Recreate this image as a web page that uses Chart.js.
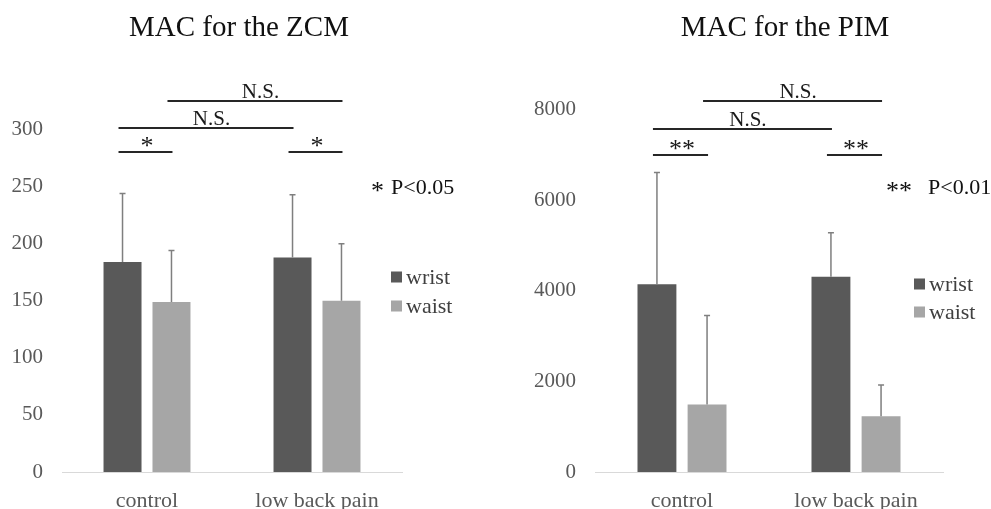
<!DOCTYPE html>
<html lang="en">
<head>
  <meta charset="UTF-8">
  <title>MAC for the ZCM / PIM</title>
  <script src="https://cdn.jsdelivr.net/npm/chart.js"></script>
  <style>
    html, body { margin: 0; padding: 0; background: #fff; overflow: hidden; }
    .panel { position: absolute; top: 0; }
  </style>
</head>
<body>
<div class="panel" style="left:0"><canvas id="zcmChart" width="495" height="509"></canvas></div>
<div class="panel" style="left:495px"><canvas id="pimChart" width="496" height="509"></canvas></div>

<script>
  const groups = ['control', 'low back pain'];
  const seriesNames = ['wrist', 'waist'];
  const seriesColors = ['#595959', '#a6a6a6'];

  // MAC for the ZCM
  const zcmWrist = [184, 188];
  const zcmWristSD = [60, 55];
  const zcmWaist = [149, 150];
  const zcmWaistSD = [45, 50];
  const zcmTicks = [0, 50, 100, 150, 200, 250, 300];

  // MAC for the PIM
  const pimWrist = [4140, 4310];
  const pimWristSD = [2470, 970];
  const pimWaist = [1490, 1230];
  const pimWaistSD = [1960, 690];
  const pimTicks = [0, 2000, 4000, 6000, 8000];

  // significance brackets: [group, series] -> [group, series] at a level in axis units
  const zcmBrackets = [
    {from: [0, 0], to: [0, 1], level: 280, label: '*'},
    {from: [1, 0], to: [1, 1], level: 280, label: '*'},
    {from: [0, 0], to: [1, 0], level: 301.5, label: 'N.S.'},
    {from: [0, 1], to: [1, 1], level: 325, label: 'N.S.'}
  ];
  const pimBrackets = [
    {from: [0, 0], to: [0, 1], level: 7000, label: '**'},
    {from: [1, 0], to: [1, 1], level: 7000, label: '**'},
    {from: [0, 0], to: [1, 0], level: 7570, label: 'N.S.'},
    {from: [0, 1], to: [1, 1], level: 8180, label: 'N.S.'}
  ];

  const serif = "'Liberation Serif', 'Times New Roman', serif";

  // draw text so the glyphs' visual middle sits on cy
  function midText(ctx, text, x, cy) {
    const m = ctx.measureText(text);
    ctx.fillText(text, x, cy + (m.actualBoundingBoxAscent - m.actualBoundingBoxDescent) / 2);
  }

  const decor = {
    id: 'decor',
    afterDatasetsDraw(chart, args, o) {
      const ctx = chart.ctx;
      const y = chart.scales.y;
      ctx.save();

      // error bars, upper half only
      ctx.strokeStyle = '#7f7f7f';
      ctx.lineWidth = 1.5;
      chart.data.datasets.forEach((ds, i) => {
        chart.getDatasetMeta(i).data.forEach((bar, j) => {
          const top = y.getPixelForValue(ds.data[j] + ds.sd[j]);
          ctx.beginPath();
          ctx.moveTo(bar.x, bar.y);
          ctx.lineTo(bar.x, top);
          ctx.moveTo(bar.x - 3, top);
          ctx.lineTo(bar.x + 3, top);
          ctx.stroke();
        });
      });

      // brackets
      ctx.strokeStyle = '#262626';
      ctx.fillStyle = '#1a1a1a';
      ctx.lineWidth = 2;
      ctx.textAlign = 'center';
      o.brackets.forEach(b => {
        const x1 = chart.getDatasetMeta(b.from[1]).data[b.from[0]].x;
        const x2 = chart.getDatasetMeta(b.to[1]).data[b.to[0]].x;
        const ly = Math.round(y.getPixelForValue(b.level));
        ctx.beginPath();
        ctx.moveTo(x1 - 4, ly);
        ctx.lineTo(x2 + 1, ly);
        ctx.stroke();
        const star = b.label.indexOf('*') === 0;
        ctx.font = star ? '26px ' + serif : '21px ' + serif;
        midText(ctx, b.label, (x1 + x2) / 2 + (star ? 0 : 4), ly - 10.5);
      });

      ctx.restore();
    },
    afterDraw(chart, args, o) {
      const ctx = chart.ctx;
      ctx.save();

      // title
      ctx.fillStyle = '#111';
      ctx.font = '29px ' + serif;
      ctx.textAlign = 'center';
      midText(ctx, o.title, o.titleX, 25);

      // p-value note
      ctx.textAlign = 'left';
      ctx.font = '26px ' + serif;
      midText(ctx, o.noteStar, o.noteStarX, 187);
      ctx.font = '22px ' + serif;
      midText(ctx, o.noteText, o.noteTextX, 187);

      // legend
      ctx.font = '22px ' + serif;
      seriesNames.forEach((name, i) => {
        const cy = o.legendY[i];
        ctx.fillStyle = seriesColors[i];
        ctx.fillRect(o.legendX, cy - 5.5, 11, 11);
        ctx.fillStyle = '#404040';
        midText(ctx, name, o.legendX + 15, cy);
      });

      ctx.restore();
    }
  };

  function makeChart(id, wrist, wristSD, waist, waistSD, ticks, max, yWidth, padRight, deco) {
    return new Chart(document.getElementById(id), {
      type: 'bar',
      data: {
        labels: groups,
        datasets: [
          {label: seriesNames[0], data: wrist, sd: wristSD, backgroundColor: seriesColors[0]},
          {label: seriesNames[1], data: waist, sd: waistSD, backgroundColor: seriesColors[1]}
        ]
      },
      options: {
        responsive: false,
        animation: false,
        devicePixelRatio: 1,
        categoryPercentage: 0.576,
        barPercentage: 0.776,
        layout: {padding: {top: 84, right: padRight, left: 0, bottom: 0}},
        plugins: {
          legend: {display: false},
          tooltip: {enabled: false},
          decor: deco
        },
        scales: {
          x: {
            grid: {display: false},
            border: {display: true, color: '#d9d9d9', width: 1},
            ticks: {color: '#595959', font: {family: serif, size: 22}, padding: 8},
            afterFit: s => { s.height = 37; }
          },
          y: {
            min: 0,
            max: max,
            grid: {display: false, drawTicks: false},
            border: {display: false},
            ticks: {
              color: '#595959',
              font: {family: serif, size: 21},
              padding: 19,
              callback: v => String(v)
            },
            afterBuildTicks: s => { s.ticks = ticks.map(v => ({value: v})); },
            afterFit: s => { s.width = yWidth; }
          }
        }
      },
      plugins: [decor]
    });
  }

  makeChart('zcmChart', zcmWrist, zcmWristSD, zcmWaist, zcmWaistSD, zcmTicks, 340, 62, 93, {
    title: 'MAC for the ZCM', titleX: 239,
    noteStar: '*', noteStarX: 371, noteText: 'P<0.05', noteTextX: 391,
    legendX: 391, legendY: [277, 306],
    brackets: zcmBrackets
  });

  makeChart('pimChart', pimWrist, pimWristSD, pimWaist, pimWaistSD, pimTicks, 8560, 100, 48, {
    title: 'MAC for the PIM', titleX: 290,
    noteStar: '**', noteStarX: 391, noteText: 'P<0.01', noteTextX: 433,
    legendX: 419, legendY: [284, 312],
    brackets: pimBrackets
  });
</script>
</body>
</html>
